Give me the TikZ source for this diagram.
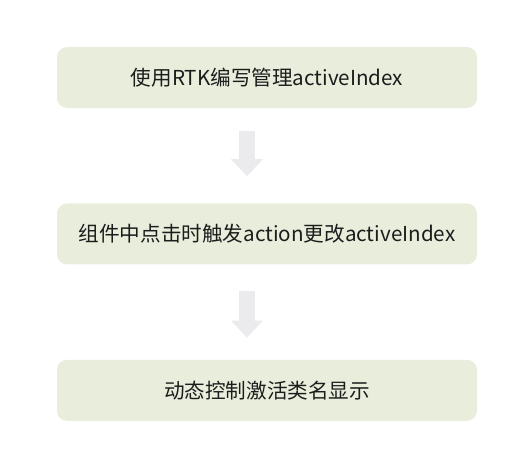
\documentclass[tikz,border=0pt]{standalone}
\usepackage{fontspec}
\setmainfont{Noto Sans CJK SC}
\usetikzlibrary{positioning,arrows.meta}
\definecolor{boxgreen}{HTML}{E9EEDC}
\definecolor{arrowgray}{HTML}{EBEBEE}
\definecolor{textdark}{HTML}{1C1C1C}
\begin{document}
\begin{tikzpicture}[x=1pt,y=1pt,
    stepbox/.style={fill=boxgreen,rounded corners=10pt,minimum width=420pt,minimum height=61pt,inner sep=0pt,text=textdark,font=\fontsize{20.6}{24}\selectfont},
    flowarrow/.style={draw=arrowgray,line width=16pt,-{Triangle[width=31pt,length=17pt]}}]
    \useasboundingbox (0,0) rectangle (529,-469);
    \node[stepbox] (rtk) at (267,-77.5) {使用RTK编写管理activeIndex};
    \node[stepbox,below=95pt of rtk] (action) {组件中点击时触发action更改activeIndex};
    \node[stepbox,below=95pt of action] (classname) {动态控制激活类名显示};
    \coordinate (a1top) at ([xshift=-20pt,yshift=-23pt]rtk.south);
    \coordinate (a1tip) at ([xshift=-20pt,yshift=27pt]action.north);
    \coordinate (a2top) at ([xshift=-20pt,yshift=-26pt]action.south);
    \coordinate (a2tip) at ([xshift=-20pt,yshift=22pt]classname.north);
    \draw[flowarrow] (a1top) -- (a1tip);
    \draw[flowarrow] (a2top) -- (a2tip);
  \end{tikzpicture}
\end{document}
